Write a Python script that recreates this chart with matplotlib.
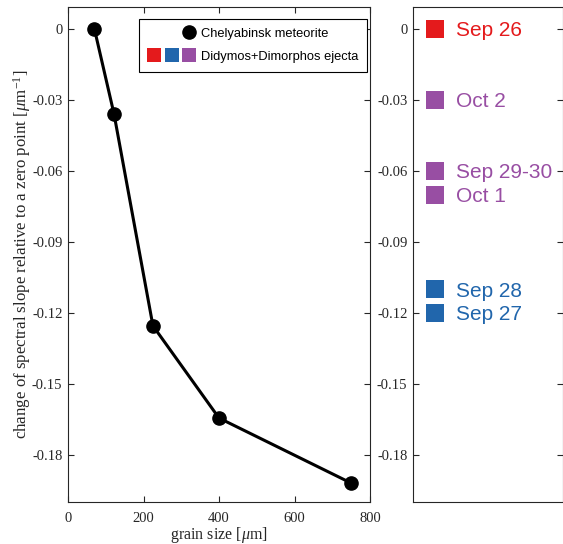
import matplotlib
matplotlib.use("Agg")
import matplotlib.pyplot as plt
from matplotlib.lines import Line2D
from matplotlib.legend_handler import HandlerTuple

plt.rcParams["mathtext.fontset"] = "custom"
plt.rcParams["mathtext.rm"] = "Liberation Serif"
plt.rcParams["mathtext.it"] = "Liberation Serif:italic"
plt.rcParams["mathtext.bf"] = "Liberation Serif:bold"

# Data
grain_size = [70, 122, 225, 400, 750]
slope_change = [0.0, -0.036, -0.1255, -0.1645, -0.192]

ejecta_dates = ["Sep 26", "Oct 2", "Sep 29-30", "Oct 1", "Sep 28", "Sep 27"]
ejecta_values = [0.0, -0.030, -0.060, -0.070, -0.110, -0.120]
ejecta_groups = ["red", "purple", "purple", "purple", "blue", "blue"]

palette = {"red": "#E41A1C", "blue": "#2166AC", "purple": "#984EA3"}
yticks = [0, -0.03, -0.06, -0.09, -0.12, -0.15, -0.18]
ytick_labels = ["0", "-0.03", "-0.06", "-0.09", "-0.12", "-0.15", "-0.18"]
xticks = [0, 200, 400, 600, 800]

serif = "Liberation Serif"
sans = "Liberation Sans"
spine_col = "#262626"

fig = plt.figure(figsize=(5.63, 5.44), dpi=100)
W, H = 563, 544
ax = fig.add_axes([68 / W, 1 - 502 / H, (370 - 68) / W, (502 - 7) / H])
ax2 = fig.add_axes([413 / W, 1 - 502 / H, (563 - 413) / W, (502 - 7) / H])

ylim = (-0.2, 0.0093)

# Left panel
ax.plot(grain_size, slope_change, color="black", lw=2.2, marker="o",
        markersize=9.5, zorder=3)
ax.set_xlim(0, 800)
ax.set_ylim(*ylim)
ax.set_xticks(xticks)
ax.set_xticklabels([str(v) for v in xticks], fontfamily=serif, fontsize=10.5)
ax.set_yticks(yticks)
ax.set_yticklabels(ytick_labels, fontfamily=serif, fontsize=10.5)
ax.tick_params(direction="in", top=True, right=True, length=4, width=0.8,
               colors=spine_col, labelcolor=spine_col)
ax.tick_params(axis="y", pad=4)
ax.tick_params(axis="x", pad=7)
ax.set_xlabel(r"grain size [$\mu$m]", fontfamily=serif, fontsize=11.5,
              color=spine_col, labelpad=0)
ax.set_ylabel(r"change of spectral slope relative to a zero point [$\mu$m$^{-1}$]",
              fontfamily=serif, fontsize=12.2, color=spine_col)
ax.yaxis.set_label_coords(-0.117, 0.5)
for s in ax.spines.values():
    s.set_color(spine_col)
    s.set_linewidth(0.8)

# Legend
empty = Line2D([], [], linestyle="none", marker="none")
circ = Line2D([], [], linestyle="none", marker="o", color="black", markersize=9.5)
sq = [Line2D([], [], linestyle="none", marker="s", markersize=10.5,
             color=palette[k], markeredgewidth=0) for k in ["red", "blue", "purple"]]
leg = ax.legend([(empty, empty, circ), tuple(sq)],
                ["Chelyabinsk meteorite", "Didymos+Dimorphos ejecta"],
                handler_map={tuple: HandlerTuple(ndivide=None, pad=0.4)},
                loc="upper right", bbox_to_anchor=(0.990, 0.976),
                borderaxespad=0,
                prop={"family": sans, "size": 9.3}, handlelength=3.6,
                handletextpad=0.45, labelspacing=0.85, borderpad=0.7,
                fancybox=False, framealpha=1, edgecolor="black")
leg.get_frame().set_linewidth(0.8)

# Right panel
for d, v, g in zip(ejecta_dates, ejecta_values, ejecta_groups):
    ax2.plot([0.147], [v], marker="s", markersize=13, color=palette[g],
             markeredgewidth=0, linestyle="none")
    ax2.annotate(d, (0.29, v), xytext=(0, -5.4), textcoords="offset points",
                 color=palette[g], fontfamily=sans, fontsize=15,
                 va="baseline", ha="left")
ax2.set_xlim(0, 1)
ax2.set_ylim(*ylim)
ax2.set_xticks([])
ax2.set_yticks(yticks)
ax2.set_yticklabels(ytick_labels, fontfamily=serif, fontsize=10.5)
ax2.tick_params(direction="in", right=True, length=4, width=0.8,
                colors=spine_col, labelcolor=spine_col, pad=4)
for s in ax2.spines.values():
    s.set_color(spine_col)
    s.set_linewidth(0.8)

fig.savefig("out.png", dpi=100)
